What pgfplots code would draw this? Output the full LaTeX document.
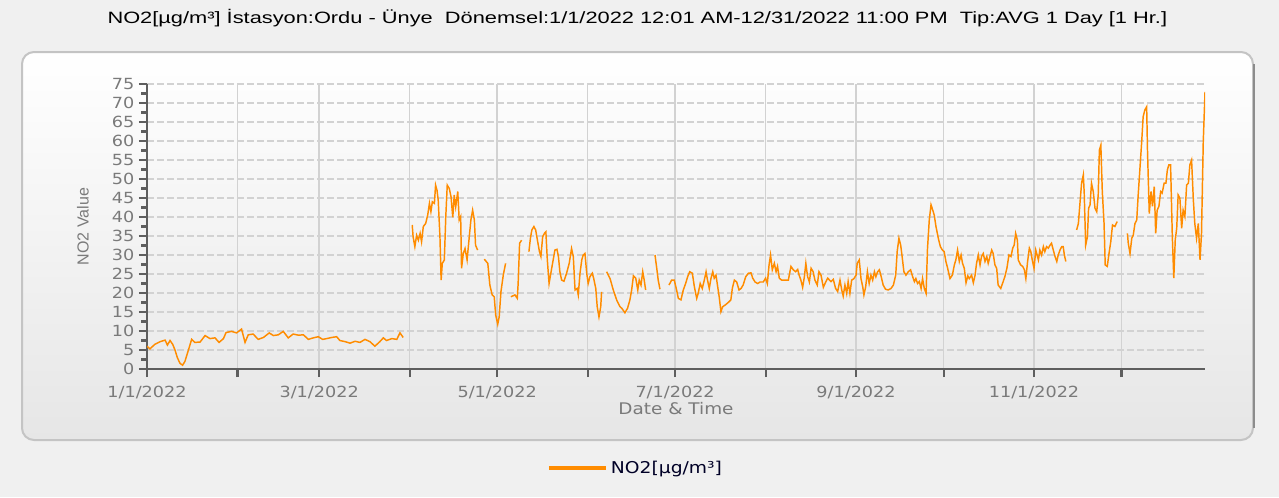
\documentclass[border=0pt]{standalone}
\usepackage{fontspec}
\setmainfont{DejaVu Sans}[FakeStretch=1.15]
\newfontfamily\titlefont{Liberation Sans}[FakeStretch=1.33]
\newfontfamily\labelfont{Liberation Sans}
\usepackage{pgfplots}
\pgfplotsset{compat=1.18}
\usepackage{pgfplotstable}

\definecolor{PageBg}{HTML}{F0F0F0}
\definecolor{PanelBot}{HTML}{E6E6E6}
\definecolor{PanelEdge}{HTML}{C4C4C4}
\definecolor{AxisGray}{HTML}{5E5E5E}
\definecolor{TickText}{HTML}{7A7A7A}
\definecolor{GridGray}{HTML}{D2D2D2}
\definecolor{NOOrange}{HTML}{FF8C00}

% daily NO2 averages, day 0 = 1/1/2022; nan marks missing days
\pgfplotstableread{
day val
0 6.0
1 5.3
2.7 6.5
4.5 7.2
6.2 7.6
7 6.3
7.9 7.5
8.8 6.5
9.6 5.0
10.4 3.0
11.3 1.5
12.2 1.0
13 2.0
14.2 5.0
15.3 7.8
16.4 7.0
18.2 7.1
19.9 8.8
21.6 8.0
23.3 8.2
24.7 7.0
26.2 8.0
27.1 9.6
29 9.9
30.7 9.5
32.4 10.5
33.6 7.0
34.7 9.0
36.4 9.2
38.1 7.8
39.9 8.3
41.9 9.5
43.3 8.8
45 9.0
46.7 9.9
48.4 8.2
50.1 9.2
51.9 8.9
53.6 9.0
55.3 7.8
57 8.2
58.7 8.5
60.2 7.8
61.6 8.0
63.3 8.3
65 8.5
66.1 7.5
67.9 7.2
69.6 6.8
71.3 7.3
73 7.0
74.7 7.8
76.4 7.2
78.1 6.0
79.8 7.2
81 8.2
82.1 7.5
83.9 8.0
85.6 7.8
86.7 9.5
87.8 8.3
89 nan
90.9 37.9
91.2 34.8
91.8 32.2
92.4 35.2
93 33.9
93.6 35.7
94.1 33.5
94.7 37.5
95.5 38.3
96.2 40.5
96.8 43.6
97.3 41.4
97.8 44.0
98.5 43.6
98.9 48.4
99.4 47.0
99.8 44.5
100.4 34.8
100.8 23.4
101.2 27.8
101.9 28.7
102.4 40.1
102.9 48.4
103.6 47.5
104.2 45.3
104.8 39.9
105.3 45.8
105.8 42.7
106.5 46.7
107 39.2
107.5 40.1
107.8 26.5
108.4 30.4
109 31.7
109.7 28.7
110.4 34.4
111 39.2
111.6 41.8
112.2 39.2
112.6 32.6
113.3 31.3
114.5 nan
115.6 28.9
116.8 27.8
117.5 22.1
118.3 19.5
119 19.0
119.5 14.2
120.2 11.8
120.7 13.7
121.3 20.3
122.1 24.7
122.9 27.8
123.8 nan
124.7 19.0
126.1 19.5
126.9 18.6
127.2 22.5
127.7 33.1
128.4 33.9
129.6 nan
130.9 30.9
131.4 34.4
131.9 36.6
132.6 37.5
133.2 36.6
133.9 33.5
134.5 30.9
135 29.6
135.6 34.8
136.2 35.7
136.7 36.1
137.2 28.7
137.8 22.5
138.4 25.2
139.2 28.7
139.8 31.3
140.5 31.5
141 29.6
141.5 25.6
142.1 23.4
142.9 23.1
143.8 25.2
144.7 27.8
145.5 31.7
146.1 29.6
146.7 20.8
147.4 21.2
147.8 19.5
148.4 25.2
149 28.7
149.5 30.0
150.1 30.4
150.7 25.2
151.2 22.5
151.8 24.3
152.6 25.2
153.1 23.8
153.8 21.2
154.3 16.4
154.9 13.7
155.5 16.4
155.8 20.3
156.6 nan
157.5 25.6
158.7 23.8
159.8 20.8
161 18.1
162.1 16.4
162.7 16.0
163.8 14.8
164.7 16.0
165.5 18.2
166.1 20.8
166.7 24.5
167.5 23.9
168.2 20.8
168.7 23.4
169.3 22.1
169.9 25.6
170.4 23.4
170.9 20.8
172.5 nan
174.1 30.0
174.7 26.5
175.2 23.4
175.8 21.0
177.3 nan
178.9 22.1
179.8 23.4
180.7 23.4
181.5 20.8
182.1 18.6
183 18.2
183.8 20.8
184.6 22.5
185.3 24.3
186 25.6
186.9 25.2
187.6 21.6
188.4 18.6
188.9 19.9
189.6 22.5
190.3 21.2
191 23.4
191.6 25.6
192.1 23.4
192.7 21.2
193.3 23.9
193.9 25.6
194.4 23.9
195 24.7
195.6 21.6
196.1 19.0
196.7 15.1
197.3 16.4
198.1 16.8
199.2 17.5
200.1 18.2
200.6 21.2
201.3 23.4
202.1 22.9
202.9 20.8
203.6 21.2
204.3 22.1
205.2 24.3
206.1 25.2
207 25.3
207.6 23.9
208.4 22.9
209.3 22.5
210.1 22.9
211.2 22.9
212 23.9
212.6 22.5
213.2 27.4
213.7 30.0
214.3 26.1
215 27.8
215.6 25.6
216.1 27.0
216.7 23.9
217.5 23.4
218.6 23.4
219.8 23.4
220.7 27.0
221.5 26.1
222.3 25.6
223 26.2
223.5 24.7
224.1 23.4
224.7 21.5
225.3 24.3
225.8 27.8
226.4 24.3
227 22.9
227.6 26.5
228.3 25.6
228.9 23.4
229.7 22.1
230.3 25.6
231 24.7
231.8 21.5
232.6 22.9
233.3 23.9
234.4 23.0
235.2 23.6
236 21.2
236.7 20.4
237.5 23.4
238.1 20.8
238.6 19.2
239.2 22.1
239.8 19.9
240.3 23.0
240.9 19.9
241.5 23.4
242.3 23.8
243 24.7
243.4 27.8
244.1 28.7
244.7 23.8
245.3 21.6
245.7 19.5
246.3 21.6
246.9 25.6
247.5 22.5
248.1 24.7
248.7 23.4
249.3 25.6
249.8 24.3
250.4 25.6
251 26.1
251.5 24.7
252.3 22.1
253.1 21.0
254 20.8
255 21.2
255.8 22.1
256.6 24.7
257.1 30.9
257.7 34.4
258.3 32.6
258.8 29.6
259.4 25.6
260.1 24.7
260.9 25.6
261.7 26.1
262.4 24.3
263 23.0
263.5 23.8
264.1 22.5
264.7 23.0
265.3 21.2
265.8 23.8
266.4 21.2
267 19.9
267.5 31.8
268.1 39.2
268.7 43.2
269.3 41.8
269.8 40.5
270.4 37.5
271.2 34.4
271.9 32.2
272.6 31.3
273.2 30.9
273.8 28.3
274.4 26.5
275.2 23.8
276 24.7
276.7 27.4
277.2 28.7
277.8 31.3
278.4 28.3
279 30.0
279.5 27.8
280.1 26.5
280.7 22.7
281.3 24.5
281.8 23.8
282.6 24.7
283.2 22.7
283.8 24.7
284.3 27.8
284.9 30.0
285.5 27.4
286 29.6
286.6 30.4
287.2 28.3
287.8 29.6
288.3 27.8
288.9 29.6
289.5 31.3
290 30.4
290.6 27.4
291.2 26.5
291.7 22.1
292.6 21.2
293.2 22.5
294 24.3
294.7 26.5
295.4 30.0
296.1 29.6
296.7 31.8
297.2 32.6
297.7 35.7
298.3 33.9
298.6 28.7
299.4 27.4
300.1 27.0
300.7 26.1
301.2 23.8
301.8 28.3
302.4 31.8
302.9 30.9
303.4 28.7
304 26.5
304.6 31.3
305.5 28.7
306 31.3
306.6 30.0
307.2 32.2
307.7 30.9
308.3 32.2
308.9 31.8
309.5 32.6
310 33.1
310.6 31.3
311.2 29.6
311.8 28.3
312.3 30.0
312.9 31.3
313.5 32.2
314 32.2
314.4 30.0
314.9 28.3
316.5 nan
318.6 36.6
319.2 38.3
319.7 43.2
320.3 48.9
320.9 51.1
321.2 46.3
321.7 32.6
322.3 34.8
322.7 42.3
323.2 43.2
323.7 48.9
324.3 46.7
324.9 42.3
325.5 41.4
326 45.8
326.4 57.6
326.9 58.9
327.4 46.7
328 38.3
328.4 27.4
329.1 27.0
329.7 30.4
330.3 33.5
330.9 37.9
331.7 37.5
332.5 38.8
334.2 nan
336 35.7
336.3 33.1
336.9 30.4
337.5 34.4
338 35.2
338.6 38.3
339.2 39.2
339.7 45.8
340.3 52.8
340.9 59.8
341.4 66.4
342 68.2
342.6 69.0
342.9 57.1
343.5 40.9
344.1 46.7
344.6 42.8
345.2 48.0
345.7 35.7
346.2 41.8
346.8 42.8
347.4 46.7
347.9 46.3
348.6 48.9
349.2 48.9
349.7 52.4
350.2 53.7
350.8 53.7
351.4 34.8
351.9 23.9
352.4 34.0
352.9 37.0
353.4 45.8
354 44.9
354.6 37.0
355.1 41.8
355.7 40.1
356.3 48.4
356.9 48.9
357.4 53.7
358 55.0
358.6 44.5
359.1 38.3
359.7 34.4
360.3 38.3
360.9 28.7
361.4 35.7
362 59.8
362.6 72.9
}\notwo

\begin{document}
\begin{tikzpicture}
% page and rounded panel (1 px = 0.75pt)
\fill[PageBg] (0pt,0pt) rectangle (959.25pt,-372.75pt);
\shade[top color=white, bottom color=PanelBot, rounded corners=9pt]
  (16.5pt,-39pt) rectangle (939.75pt,-330pt);
\draw[PanelEdge, line width=1.5pt, rounded corners=9pt]
  (16.5pt,-39pt) rectangle (939.75pt,-330pt);
\draw[black!45, line width=1.2pt] (940.5pt,-48pt) -- (940.5pt,-321pt);
\node[font=\titlefont\fontsize{12.3}{14}\selectfont, text=black] at (478pt,-13.5pt)
  {NO2[µg/m³] İstasyon:Ordu - Ünye\ \ Dönemsel:1/1/2022 12:01 AM-12/31/2022 11:00 PM\ \ Tip:AVG 1 Day [1 Hr.]};

\begin{axis}[
  at={(110.25pt,-276.75pt)}, anchor=south west,
  scale only axis, width=793.5pt, height=213.75pt,
  xmin=0, xmax=362.6, ymin=0, ymax=75,
  axis x line*=bottom, axis y line*=left,
  axis line style={AxisGray, line width=2.2pt},
  tick align=outside,
  xtick={0,31,59,90,120,151,181,212,243,273,304,334},
  xticklabels={1/1/2022,,3/1/2022,,5/1/2022,,7/1/2022,,9/1/2022,,11/1/2022,},
  ytick={0,5,...,75},
  minor y tick num=1,
  major tick length=6pt,
  minor tick length=4.5pt,
  every tick/.style={AxisGray, line width=1.6pt},
  xmajorgrids, ymajorgrids,
  x grid style={GridGray, line width=1pt},
  y grid style={GridGray, line width=0.9pt, dash pattern=on 5pt off 2.5pt},
  tick label style={font=\fontsize{11.5}{13}\selectfont, text=TickText},
  /pgf/number format/assume math mode=true,
  xticklabel style={yshift=-3.5pt},
  yticklabel style={xshift=0pt},
  xlabel={Date \& Time},
  xlabel style={font=\fontsize{12}{14}\selectfont, text=TickText,
    at={(axis description cs:0.5,-0.137)}, anchor=center},
  ylabel={NO2 Value},
  ylabel style={font=\labelfont\fontsize{12}{14}\selectfont, text=TickText,
    at={(axis description cs:-0.0605,0.5)}, anchor=center, rotate=0},
  unbounded coords=jump,
  legend style={at={(0.462,-0.347)}, anchor=center, draw=none, fill=none,
    font=\fontsize{12.2}{14}\selectfont, text=black!85!blue},
  legend image code/.code={\draw[#1, line width=3pt] (0pt,0pt) -- (43pt,0pt);},
]
\addplot[NOOrange, line width=1.1pt] table[x=day, y=val] {\notwo};
\addlegendentry{NO2[µg/m³]}
\end{axis}
\end{tikzpicture}
\end{document}
